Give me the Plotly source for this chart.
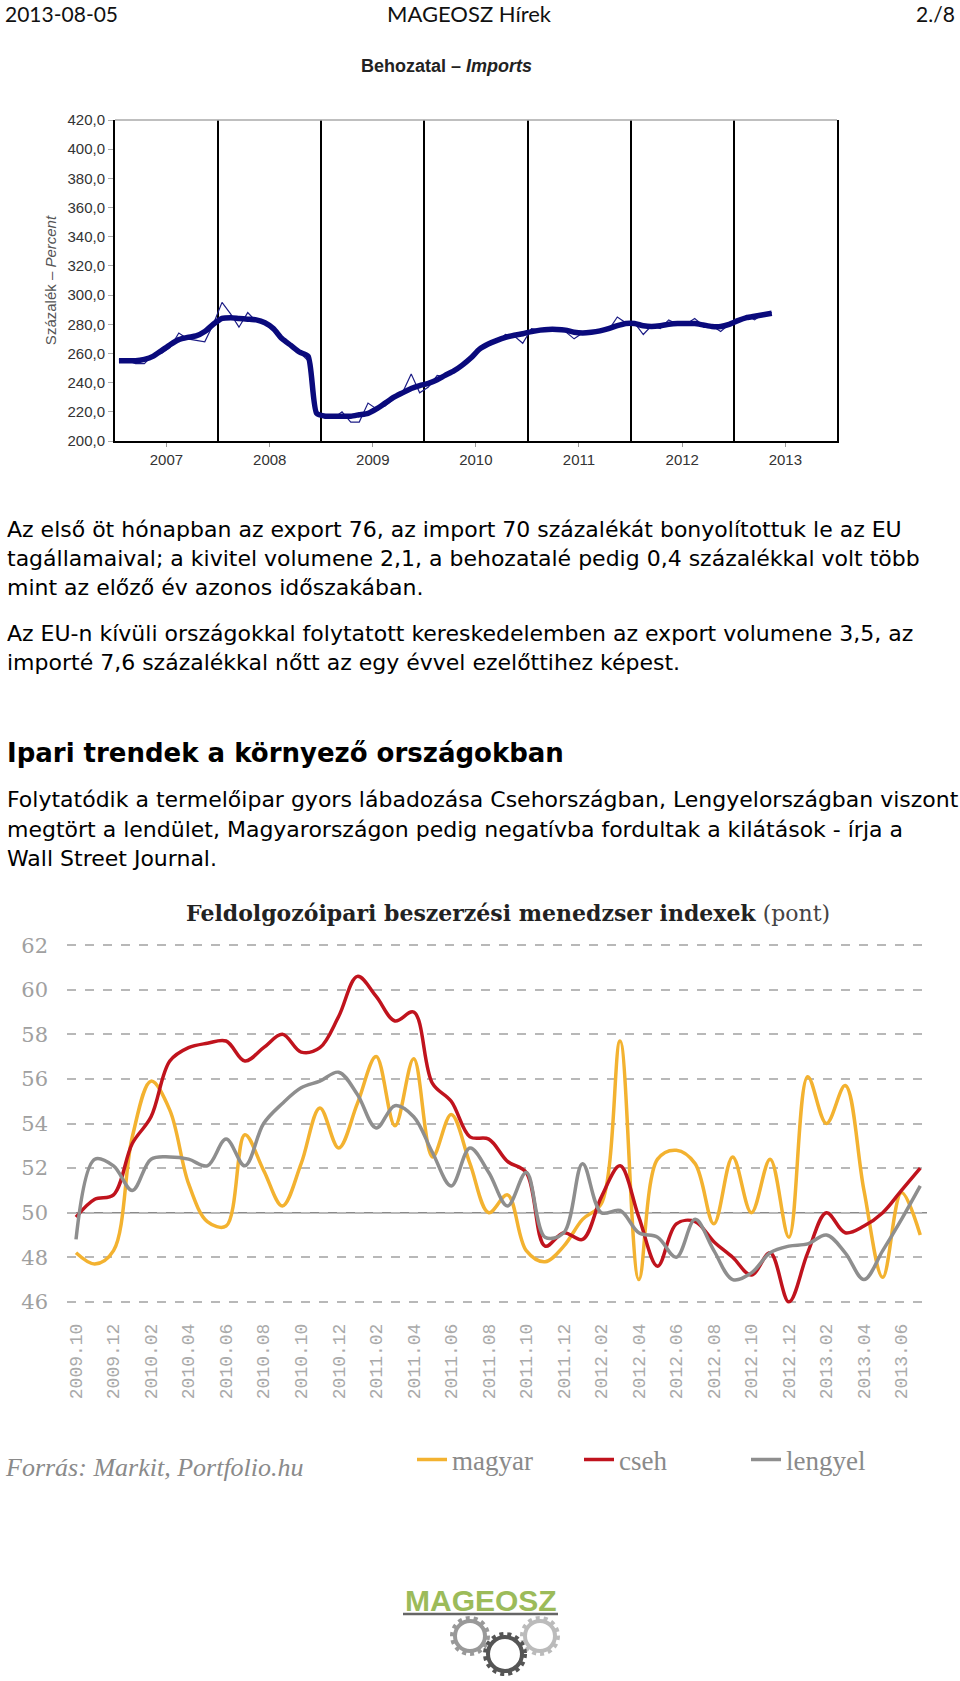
import plotly.graph_objects as go

W, H = 960, 1681

# ---------------- data: top chart (Behozatal - Imports), monthly Jan 2007 - May 2013
top_years = [2007, 2008, 2009, 2010, 2011, 2012, 2013]
import_raw = [
    256, 255, 253, 253, 259, 260, 264, 274, 270, 269, 268, 280,
    295, 287, 278, 288, 282, 282, 277, 270, 265, 261, 255, 218,
    217, 216, 220, 213, 213, 226, 222, 224, 229, 233, 246, 233,
    237, 245, 244, 248, 252, 257, 263, 267, 268, 273, 272, 267,
    277, 276, 277, 276, 275, 270, 274, 275, 275, 276, 285, 281,
    281, 273, 279, 277, 283, 280, 280, 284, 279, 279, 275, 280,
    282, 286, 283, 287, 288,
]
import_trend = [
    255, 255, 255, 256, 258, 262, 266, 269.5, 271, 272, 275, 280,
    284, 284.5, 284, 283.5, 283, 281, 277, 270, 265.5, 261, 258, 219,
    217, 217, 217, 217, 218, 219, 222, 226, 230, 233, 236, 238,
    239.5, 242, 245, 248, 252, 257, 263, 266.5, 269, 271, 272.5, 273.5,
    275, 276, 276.5, 276.5, 276, 274.5, 274, 274.5, 275.5, 277, 279, 280.5,
    280.5, 279, 278.5, 279, 280, 280.5, 280.5, 280.5, 279.5, 278.5, 278.5, 280,
    282.5, 284.5, 285.5, 286.5, 287.5,
]
top_dates = [f"{y}-{m:02d}-15" for y in top_years for m in range(1, 13)][:len(import_raw)]

# ---------------- data: bottom chart (PMI), monthly 2009.10 - 2013.07
pmi_months = ([f"2009.{m:02d}" for m in (10, 11, 12)]
              + [f"{y}.{m:02d}" for y in (2010, 2011, 2012) for m in range(1, 13)]
              + [f"2013.{m:02d}" for m in range(1, 8)])
magyar = [48.2, 47.7, 48.3, 53.4, 55.9, 54.6, 51.3, 49.6, 49.4, 53.5,
          51.9, 50.3, 52.2, 54.7, 52.9, 54.9, 57.0, 53.9, 56.9, 52.5,
          54.4, 52.2, 50.0, 50.8, 48.3, 47.8, 48.5, 49.7, 50.4, 57.7,
          47.0, 52.4, 52.8, 52.2, 49.5, 52.5, 50.0, 52.4, 48.9, 56.1,
          54.0, 55.7, 51.0, 47.1, 50.9, 49.0]
cseh = [49.8, 50.6, 50.8, 53.1, 54.3, 56.8, 57.4, 57.6, 57.7, 56.8,
        57.4, 58.0, 57.2, 57.4, 58.8, 60.6, 59.7, 58.6, 59.0, 55.8,
        55.0, 53.4, 53.3, 52.3, 51.8, 48.5, 49.1, 48.8, 50.7, 52.1,
        49.8, 47.6, 49.5, 49.6, 48.7, 48.0, 47.2, 48.2, 46.0, 48.2,
        50.0, 49.1, 49.4, 50.0, 51.0, 52.0]
lengyel = [48.8, 52.4, 52.1, 51.0, 52.4, 52.5, 52.4, 52.1, 53.3, 52.1,
           54.0, 54.9, 55.6, 55.9, 56.3, 55.3, 53.8, 54.8, 54.3, 52.7,
           51.2, 52.9, 51.8, 50.3, 51.8, 48.9, 49.1, 52.2, 50.0, 50.1,
           49.1, 48.9, 48.0, 49.7, 48.3, 47.0, 47.3, 48.2, 48.5, 48.6,
           49.0, 48.2, 47.0, 48.3, 49.7, 51.2]
pmi_ticks = list(range(46, 63, 2))


def py(p):
    return 1 - p / H


fig = go.Figure()

fig.add_trace(go.Scatter(x=top_dates, y=import_raw, mode="lines",
                         line=dict(color="#1c1c85", width=1.2),
                         xaxis="x", yaxis="y", showlegend=False, hoverinfo="skip"))
fig.add_trace(go.Scatter(x=top_dates, y=import_trend, mode="lines",
                         line=dict(color="#0a0a7c", width=5.5, shape="spline", smoothing=0.6),
                         xaxis="x", yaxis="y", showlegend=False, hoverinfo="skip"))

fig.add_trace(go.Scatter(x=pmi_months, y=magyar, mode="lines", name="magyar",
                         line=dict(color="#f3b230", width=3.5, shape="spline", smoothing=1),
                         xaxis="x2", yaxis="y2"))
fig.add_trace(go.Scatter(x=pmi_months, y=cseh, mode="lines", name="cseh",
                         line=dict(color="#c0131d", width=3.5, shape="spline", smoothing=1),
                         xaxis="x2", yaxis="y2"))
fig.add_trace(go.Scatter(x=pmi_months, y=lengyel, mode="lines", name="lengyel",
                         line=dict(color="#8e8e8e", width=3.5, shape="spline", smoothing=1),
                         xaxis="x2", yaxis="y2"))

sans = "Liberation Sans"
body = "DejaVu Sans"

annotations = []


def txt(text, x, y, size, family=body, color="#000", xanchor="left", **kw):
    annotations.append(dict(text=text, x=x / W, y=py(y), xref="paper", yref="paper",
                            xanchor=xanchor, yanchor="middle", showarrow=False,
                            font=dict(family=family, size=size, color=color), **kw))


# header
txt("2013-08-05", 3, 14, 21, family="Lato", color="#111")
txt("MAGEOSZ Hírek", 469, 14, 22, family="Lato", color="#111", xanchor="center")
txt("2./8", 957, 14, 21, family="Lato", color="#111", xanchor="right")

# top chart title
txt("<b>Behozatal – <i>Imports</i></b>", 446, 66, 18, family=sans, color="#222", xanchor="center")

# paragraphs
lines = [
    ("Az első öt hónapban az export 76, az import 70 százalékát bonyolítottuk le az EU", 530),
    ("tagállamaival; a kivitel volumene 2,1, a behozatalé pedig 0,4 százalékkal volt több", 558),
    ("mint az előző év azonos időszakában.", 587),
    ("Az EU-n kívüli országokkal folytatott kereskedelemben az export volumene 3,5, az", 634),
    ("importé 7,6 százalékkal nőtt az egy évvel ezelőttihez képest.", 662),
    ("Folytatódik a termelőipar gyors lábadozása Csehországban, Lengyelországban viszont", 800),
    ("megtört a lendület, Magyarországon pedig negatívba fordultak a kilátások - írja a", 829),
    ("Wall Street Journal.", 858),
]
for t, y in lines:
    txt(t, 5, y, 22)
txt("<b>Ipari trendek a környező országokban</b>", 5, 753, 26)

# bottom chart title & source
txt("<b>Feldolgozóipari beszerzési menedzser indexek</b> <span style='color:#444'>(pont)</span>",
    508, 913, 22, family="DejaVu Serif", color="#222", xanchor="center")
txt("<i>Forrás: Markit, Portfolio.hu</i>", 3, 1467, 26, family="Liberation Serif", color="#8a8a8a")

# logo
txt("<b>MAGEOSZ</b>", 481, 1600, 30, family=sans, color="#9cbb5a", xanchor="center")

shapes = [
    # top border of the import chart (gray)
    dict(type="line", xref="x domain", yref="y domain", x0=0, x1=1, y0=1, y1=1,
         line=dict(color="#aaaaaa", width=1.5)),
    # reference line at 50
    dict(type="line", xref="x2 domain", yref="y2", x0=0, x1=1, y0=50, y1=50,
         line=dict(color="#8a8a8a", width=1.5), layer="below"),
    # logo rule
    dict(type="line", xref="paper", yref="paper", x0=403 / W, x1=558 / W, y0=py(1614), y1=py(1614),
         line=dict(color="#666", width=2.5)),
]
for cx, cy, r, col in [(470, 1636, 15, "#999999"), (540, 1636, 15, "#bbbbbb"), (505, 1654, 17, "#555555")]:
    shapes.append(dict(type="circle", xref="paper", yref="paper",
                       x0=(cx - r) / W, x1=(cx + r) / W, y0=py(cy + r), y1=py(cy - r),
                       line=dict(color=col, width=4), fillcolor="white"))
    shapes.append(dict(type="circle", xref="paper", yref="paper",
                       x0=(cx - r - 3) / W, x1=(cx + r + 3) / W, y0=py(cy + r + 3), y1=py(cy - r - 3),
                       line=dict(color=col, width=4, dash="dot")))

fig.update_layout(
    width=W, height=H,
    margin=dict(l=0, r=0, t=0, b=0, autoexpand=False),
    paper_bgcolor="white", plot_bgcolor="white",
    separators=", ",
    annotations=annotations,
    shapes=shapes,
    xaxis=dict(domain=[115 / W, 837 / W], anchor="y", type="date",
               range=["2007-01-01", "2014-01-01"],
               tickmode="array", tickvals=[f"{y}-07-02" for y in top_years],
               ticktext=[str(y) for y in top_years],
               ticks="outside", ticklen=4, tickcolor="#999",
               showline=True, linecolor="black", linewidth=2,
               showgrid=False, zeroline=False, automargin=False,
               minor=dict(tick0="2007-01-01", dtick="M12", showgrid=True,
                          gridcolor="black", gridwidth=2, ticks=""),
               tickfont=dict(family=sans, size=15, color="#333")),
    yaxis=dict(domain=[py(441), py(120)], anchor="x", range=[200, 420],
               tickmode="linear", tick0=200, dtick=20, tickformat=".1f",
               ticks="outside", ticklen=5, tickcolor="#aaa",
               showline=True, linecolor="black", linewidth=2, mirror=True,
               showgrid=False, zeroline=False, automargin=False,
               tickfont=dict(family=sans, size=15, color="#333"),
               title=dict(text="Százalék – <i>Percent</i>", standoff=7,
                          font=dict(family=sans, size=15, color="#555"))),
    xaxis2=dict(domain=[67 / W, 927 / W], anchor="y2", type="category",
                range=[-0.48, 45.36], automargin=False,
                tickmode="array", tickvals=pmi_months[::2], tickangle=-90,
                tickfont=dict(family="Liberation Mono", size=18, color="#aaaaaa"),
                showgrid=False, showline=False, zeroline=False, ticks="",
                ticklabelstandoff=6),
    yaxis2=dict(domain=[py(1313), py(934)], anchor="x2", range=[45.5, 62.5],
                tickmode="array", tickvals=pmi_ticks, automargin=False,
                showgrid=True, gridcolor="#b8b8b8", griddash="dash", gridwidth=1.5,
                zeroline=False, showline=False,
                tickfont=dict(family="DejaVu Serif", size=21, color="#a0a0a0"),
                ticklabelstandoff=18),
    legend=dict(orientation="h", x=412 / W, xanchor="left", y=py(1460), yanchor="middle",
                font=dict(family="Liberation Serif", size=27, color="#8a8a8a"),
                bgcolor="rgba(0,0,0,0)", itemwidth=30,
                entrywidth=122, entrywidthmode="pixels"),
    showlegend=True,
)

fig.write_html(
    "out.html",
    config={"displayModeBar": False},
    post_script="document.body.style.margin='0px';document.documentElement.style.overflow='hidden';",
)
